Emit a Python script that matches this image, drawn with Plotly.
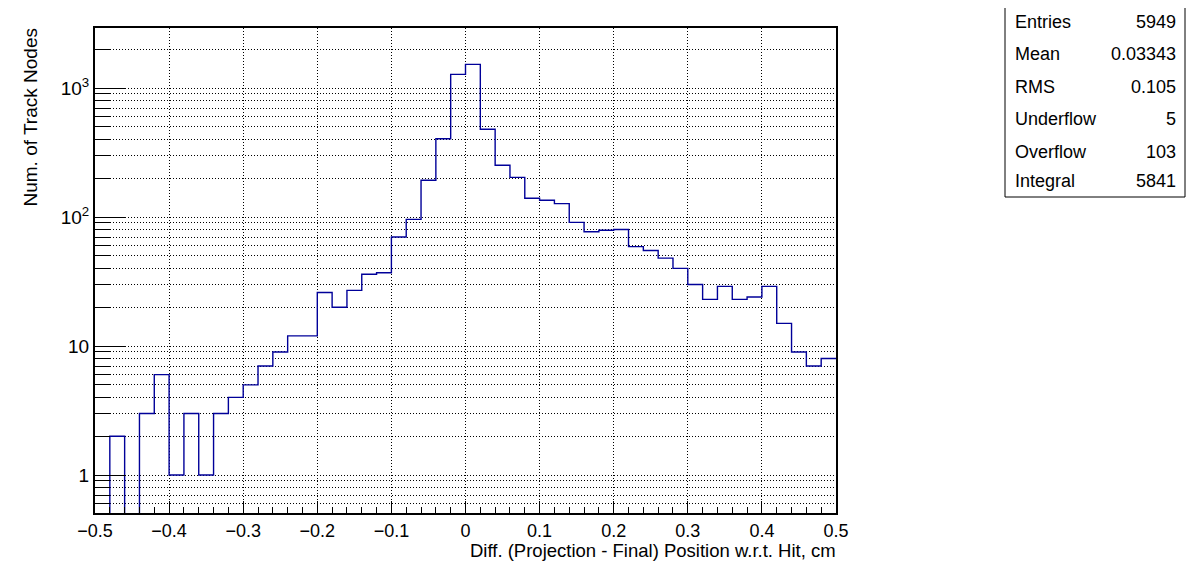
import math
import plotly.graph_objects as go

# ---------------- data ----------------
bin_counts = [0, 2, 0, 3, 6, 1, 3, 1, 3, 4,
              5, 7, 9, 12, 12, 26, 20, 27, 36, 37,
              70, 96, 193, 405, 1276, 1525, 479, 252, 203, 140,
              135, 127, 91, 77, 79, 80, 59, 55, 48, 40,
              30, 23, 29, 23, 24, 29, 15, 9, 7, 8]
n_bins = 50
x_min, x_max = -0.5, 0.5

x_tick_vals = [-0.5, -0.4, -0.3, -0.2, -0.1, 0.0, 0.1, 0.2, 0.3, 0.4, 0.5]
x_tick_text = ["\u22120.5", "\u22120.4", "\u22120.3", "\u22120.2", "\u22120.1", "0",
               "0.1", "0.2", "0.3", "0.4", "0.5"]
y_tick_vals = [1, 10, 100, 1000]
y_tick_text = ["1", "10", "10<sup>2</sup>", "10<sup>3</sup>"]
y_minor_vals = [m * 10 ** e for e in range(-1, 4) for m in range(2, 10)]

stat_labels = ["Entries", "Mean", "RMS", "Underflow", "Overflow", "Integral"]
stat_values = ["5949", "0.03343", "0.105", "5", "103", "5841"]

x_title = "Diff. (Projection - Final) Position w.r.t. Hit, cm"
y_title = "Num. of Track Nodes"

# ---------------- layout constants ----------------
WIN_W, WIN_H = 1196, 572
OFF = 8  # page body margin
W, H = WIN_W - OFF, WIN_H - OFF
L, R, T, B = 95, 836, 28, 513   # frame in window pixels
y_lo, y_hi = 0.508, 2920.0
FONT = "Liberation Sans, Arial, sans-serif"
LINE_COLOR = "#000099"


def px_x(p):
    return (p - L) / (R - L)


def px_y(p):
    return (B - p) / (B - T)


# ---------------- histogram step line ----------------
bw = (x_max - x_min) / n_bins
edges = [x_min + i * bw for i in range(n_bins + 1)]
floor_val = 1e-3  # empty bins drop below the visible range (clipped by the frame)
y_plot = [c if c > 0 else floor_val for c in bin_counts]
y_plot = y_plot + [y_plot[-1]]

fig = go.Figure()
fig.add_trace(go.Scatter(
    x=edges, y=y_plot, mode="lines", line_shape="hv",
    line=dict(color=LINE_COLOR, width=1.4), hoverinfo="skip", showlegend=False,
))

fig.update_layout(
    width=W, height=H,
    margin=dict(l=L - OFF, r=WIN_W - R, t=T - OFF, b=WIN_H - B, pad=0),
    paper_bgcolor="white", plot_bgcolor="white",
    font=dict(family=FONT, size=19, color="black"),
    showlegend=False,
)

fig.update_xaxes(
    range=[x_min, x_max],
    tickmode="array", tickvals=x_tick_vals, ticktext=x_tick_text,
    ticks="inside", ticklen=12, tickwidth=1, tickcolor="black",
    showgrid=True, gridcolor="black", gridwidth=1, griddash="1px,2px",
    zeroline=False,
    showline=True, linecolor="black", linewidth=2, mirror=True,
    minor=dict(dtick=0.02, tick0=0, ticks="inside", ticklen=6, tickcolor="black",
               tickwidth=1, showgrid=False),
    tickfont=dict(size=18),
)
fig.update_yaxes(
    type="log",
    range=[math.log10(y_lo), math.log10(y_hi)],
    tickmode="array", tickvals=y_tick_vals, ticktext=y_tick_text,
    ticks="inside", ticklen=31, tickwidth=1, tickcolor="black",
    showgrid=True, gridcolor="black", gridwidth=1, griddash="1px,2px",
    zeroline=False,
    showline=True, linecolor="black", linewidth=2, mirror=True,
    minor=dict(tickmode="array", tickvals=y_minor_vals, ticks="inside", ticklen=15,
               tickcolor="black", tickwidth=1, showgrid=True, gridcolor="black",
               gridwidth=1, griddash="1px,2px"),
    tickfont=dict(size=19),
)

# axis titles (ROOT style: aligned to the far end of each axis)
fig.add_annotation(text=x_title, xref="paper", yref="paper",
                   x=px_x(838), y=px_y(550), xanchor="right", yanchor="middle",
                   showarrow=False, font=dict(size=18.5))
fig.add_annotation(text=y_title, xref="paper", yref="paper",
                   x=px_x(30), y=px_y(117.5), xanchor="center", yanchor="middle",
                   textangle=-90, showarrow=False, font=dict(size=19))

# statistics box
bx0, bx1, by0, by1 = 1005, 1185, 1, 197
fig.add_shape(type="rect", xref="paper", yref="paper",
              x0=px_x(bx0), x1=px_x(bx1), y0=px_y(by1), y1=px_y(by0),
              line=dict(color="black", width=1), fillcolor="white")
row_y = [22, 54, 87, 119, 152, 181]
for lab, val, yy in zip(stat_labels, stat_values, row_y):
    fig.add_annotation(text=lab, xref="paper", yref="paper", x=px_x(1013), y=px_y(yy),
                       xanchor="left", yanchor="middle", showarrow=False,
                       font=dict(size=18))
    fig.add_annotation(text=val, xref="paper", yref="paper", x=px_x(1178), y=px_y(yy),
                       xanchor="right", yanchor="middle", showarrow=False,
                       font=dict(size=18))

fig.write_html("out.html")
